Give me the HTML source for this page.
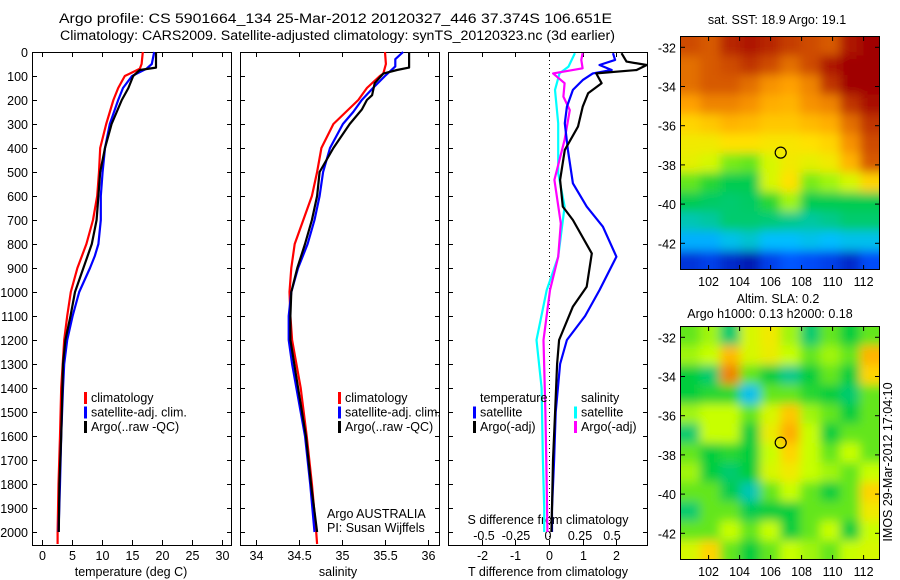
<!DOCTYPE html>
<html><head><meta charset="utf-8"><style>
html,body{margin:0;padding:0;background:#fff;}
svg{display:block;font-family:"Liberation Sans",sans-serif;}
text{font-size:12.5px;fill:#000;}
</style></head><body>
<svg id="chart" width="900" height="580" viewBox="0 0 900 580">
<defs><filter id="bl" filterUnits="userSpaceOnUse" x="660" y="0" width="240" height="580"><feGaussianBlur stdDeviation="5"/></filter>
<clipPath id="c1"><rect x="680" y="36" width="200" height="234"/></clipPath>
<clipPath id="c2"><rect x="680" y="326" width="200" height="234"/></clipPath>
<clipPath id="p3"><rect x="448" y="52" width="199" height="493"/></clipPath></defs>
<text x="59" y="23" textLength="553" lengthAdjust="spacingAndGlyphs" style="font-size:13.5px">Argo profile: CS 5901664_134 25-Mar-2012 20120327_446 37.374S 106.651E</text>
<text x="60" y="40" textLength="555" lengthAdjust="spacingAndGlyphs" style="font-size:13.5px">Climatology: CARS2009. Satellite-adjusted climatology: synTS_20120323.nc (3d earlier)</text>
<g id="g"></g>
</svg>
<script>
// ---- data ----
const depthT = [0,50,70,100,150,200,300,400,500,600,700,800,900,1000,1100,1200,1400,1600,1800,2000,2050];
const tempClim = [16.8,16.6,16.3,13.8,12.7,11.9,10.7,9.7,9.5,9.2,8.5,7.4,5.9,4.8,4.2,3.7,3.2,3.0,2.75,2.6,2.6];
const depthTS = [0,50,70,100,150,200,300,400,500,600,700,800,850,900,1000,1100,1200,1300,1400,1600,1800,2000];
const tempSat = [18.7,18.3,17.4,15.0,13.5,12.7,11.3,10.5,10.1,9.8,9.8,9.4,8.8,8.0,6.2,5.1,4.2,3.7,3.5,3.2,3.0,2.75];
const depthTA = [0,65,75,100,150,200,300,400,500,600,700,800,900,1000,1100,1200,1300,1400,1600,1800,2000];
const tempArgo = [19.0,19.0,16.3,15.2,14.4,13.3,11.6,10.5,9.7,9.4,9.1,8.3,6.9,5.5,4.75,3.9,3.5,3.4,3.2,2.9,2.8];
const depthS = [0,50,90,100,150,200,300,400,500,600,700,800,900,1000,1100,1200,1400,1600,1800,2000,2050];
const salClim = [35.5,35.51,35.48,35.44,35.29,35.19,34.9,34.76,34.71,34.65,34.55,34.45,34.41,34.39,34.40,34.42,34.52,34.59,34.65,34.70,34.71];
const depthSS = [0,30,60,100,150,200,250,300,400,500,600,700,800,900,1000,1100,1200,1300,1400,1600,1800,2000];
const salSat = [35.71,35.62,35.62,35.5,35.36,35.23,35.13,35.01,34.86,34.78,34.74,34.68,34.6,34.49,34.41,34.38,34.38,34.42,34.47,34.57,34.63,34.68];
const depthSA = [0,65,75,90,130,180,200,240,300,400,500,600,700,800,900,1000,1100,1200,1400,1600,1800,2000];
const salArgo = [35.78,35.78,35.64,35.48,35.38,35.35,35.29,35.23,35.09,34.9,34.74,34.71,34.65,34.57,34.48,34.41,34.40,34.40,34.49,34.58,34.64,34.71];
const depthDT = [5,33,54,75,89,117,158,228,297,408,547,644,728,853,992,1100,1200,1300,1500,1700,1900,2000];
const dTsat = [1.9,1.96,1.5,1.86,1.3,1.0,0.71,0.53,0.47,0.56,0.71,1.12,1.6,2.0,1.5,1.07,0.53,0.33,0.2,0.15,0.09,0.09];
const depthDA = [5,40,54,75,89,130,172,228,311,408,533,644,700,839,978,1061,1200,1300,1500,1700,1900,2000];
const dTargo = [2.15,2.3,2.9,2.6,1.4,1.56,1.16,1.0,0.86,0.47,0.33,0.41,0.71,1.27,1.12,0.71,0.3,0.24,0.18,0.12,0.09,0.07];
const depthDS = [5,61,89,158,297,505,644,853,992,1200,1400,1700,1900,2000];
const dSsat = [0.21,0.16,0.09,0.055,0.08,0.08,0.13,0.08,-0.01,-0.09,-0.05,-0.04,-0.03,-0.03];
const depthDSA = [5,33,68,89,130,186,242,366,533,714,853,992,1200,1500,1800,2000];
const dSargo = [0.27,0.26,0.27,0.04,0.13,0.12,0.17,0.13,0.05,0.1,0.08,0.016,-0.035,-0.02,-0.01,-0.005];
const depthTicks = [0,100,200,300,400,500,600,700,800,900,1000,1100,1200,1300,1400,1500,1600,1700,1800,1900,2000];
const tempTicks = [0,5,10,15,20,25,30];
const salTicks = [34,34.5,35,35.5,36];
const dTTicks = [-2,-1,0,1,2];
const dSTicks = [-0.5,-0.25,0,0.25,0.5];
const latTicks = [-32,-34,-36,-38,-40,-42];
const lonTicks = [102,104,106,108,110,112];
const sstGrid = [
[.9,.88,.95,.97,.95,.92,.9,.88,.97,1],[.85,.88,.9,.93,.9,.85,.9,.97,1,1],
[.85,.88,.88,.85,.8,.78,.82,.93,1,1],[.78,.82,.82,.8,.76,.75,.8,.82,.93,.98],
[.7,.72,.75,.74,.72,.72,.74,.76,.85,.93],[.66,.66,.68,.68,.67,.67,.68,.7,.8,.9],
[.64,.62,.56,.55,.62,.66,.64,.66,.75,.88],[.55,.52,.48,.48,.62,.68,.56,.58,.62,.7],
[.48,.46,.45,.46,.52,.58,.48,.48,.48,.48],[.38,.4,.45,.45,.44,.42,.4,.42,.45,.45],
[.28,.28,.32,.35,.3,.3,.32,.3,.32,.32],[.1,.12,.08,.05,.12,.16,.14,.12,.08,.14]];
const slaGrid = [
[.55,.58,.45,.62,.66,.58,.45,.55,.5,.55],[.58,.6,.74,.62,.65,.6,.55,.58,.55,.75],
[.5,.45,.82,.55,.5,.42,.5,.55,.5,.7],[.5,.52,.52,.32,.55,.55,.52,.5,.45,.55],
[.58,.6,.6,.55,.62,.72,.58,.55,.5,.55],[.45,.6,.6,.5,.65,.76,.6,.5,.55,.55],
[.55,.5,.52,.5,.6,.7,.6,.55,.6,.55],[.58,.5,.45,.5,.62,.66,.6,.58,.55,.6],
[.55,.55,.48,.38,.55,.6,.55,.5,.55,.7],[.45,.55,.55,.48,.5,.5,.55,.55,.55,.66],
[.55,.55,.6,.55,.6,.5,.55,.6,.5,.6],[.62,.7,.55,.5,.55,.6,.58,.55,.6,.62]];
const argoLat = -37.374, argoLon = 106.651;

// ---- scales ----
const Y0=52, Y1=545;
const yD = d => 52 + d*0.24;
const xT = t => 42 + t*6;
const xS = s => 256 + (s-34)*86;
const xDT = v => 549 + v*33.7;
const xDS = v => 548 + v*128;
const yLat = (lat, top) => top + 11.3 + (-32 - lat)*19.6;
const xLon = lon => 708.6 + (lon-102)*15.5;

const NS='http://www.w3.org/2000/svg';
const G=document.getElementById('g');
function mk(tag, attrs, parent){const e=document.createElementNS(NS,tag);for(const k in attrs)e.setAttribute(k,attrs[k]);(parent||G).appendChild(e);return e;}
function txt(x,y,s,anchor,name,extra){const e=mk('text',Object.assign({x:x,y:y,'text-anchor':anchor||'start'},extra||{}));e.textContent=s;


return e;}

const panels=[{x:32,name:'temperature-panel'},{x:240,name:'salinity-panel'},{x:448,name:'difference-panel'}];
panels.forEach(p=>{
  const r=mk('rect',{x:p.x+0.5,y:Y0+0.5,width:199,height:Y1-Y0,fill:'none',stroke:'#000','stroke-width':1});
  
  
  depthTicks.forEach(d=>{const y=yD(d)+0.5;
    mk('line',{x1:p.x,x2:p.x+5,y1:y,y2:y,stroke:'#000'});
    mk('line',{x1:p.x+195,x2:p.x+200,y1:y,y2:y,stroke:'#000'});});
});
depthTicks.forEach(d=>{txt(28,yD(d)+5,String(d),'end','depth-tick-label');});
function xticks(vals,f,ly){vals.forEach(v=>{const x=Math.round(f(v))+0.5;
  mk('line',{x1:x,x2:x,y1:Y0,y2:Y0+5,stroke:'#000'});mk('line',{x1:x,x2:x,y1:Y1-5,y2:Y1,stroke:'#000'});
  if(ly)txt(x,ly,String(v),'middle','x-tick-label');});}
xticks(tempTicks,xT,560);
xticks(salTicks,xS,560);
xticks(dTTicks,xDT,560);
dSTicks.forEach(v=>{txt(xDS(v),540,String(v),'middle','s-diff-tick-label');});
txt(131,576,'temperature (deg C)','middle','x-axis-title-temperature');
txt(338,576,'salinity','middle','x-axis-title-salinity');
txt(548,576,'T difference from climatology','middle','x-axis-title-t-diff');
txt(548,524,'S difference from climatology','middle','s-diff-axis-title');
mk('line',{x1:549.5,x2:549.5,y1:Y0,y2:Y1,stroke:'#000','stroke-dasharray':'1,3'});

function series(ds,vs,fx,color,name,clip){
  const pts=ds.map((d,i)=>fx(vs[i]).toFixed(1)+','+yD(d).toFixed(1)).join(' ');
  const a={points:pts,fill:'none',stroke:color,'stroke-width':2.2,'stroke-linejoin':'round'};
  if(clip)a['clip-path']='url(#p3)';
  const e=mk('polyline',a);
  
  
}
series(depthT,tempClim,xT,'#f00','temp-climatology-line');
series(depthTS,tempSat,xT,'#00f','temp-satellite-line');
series(depthTA,tempArgo,xT,'#000','temp-argo-line');
series(depthS,salClim,xS,'#f00','sal-climatology-line');
series(depthSS,salSat,xS,'#00f','sal-satellite-line');
series(depthSA,salArgo,xS,'#000','sal-argo-line');
series(depthDS,dSsat,xDS,'#0ff','s-diff-satellite-line',1);
series(depthDSA,dSargo,xDS,'#f0f','s-diff-argo-line',1);
series(depthDT,dTsat,xDT,'#00f','t-diff-satellite-line',1);
series(depthDA,dTargo,xDT,'#000','t-diff-argo-line',1);

function legend(x,y,items,name){items.forEach((it,i)=>{const yy=y+i*14.5;
  if(it[1]){const b=mk('rect',{x:x,y:yy-10,width:3,height:12,fill:it[1]});
  
  }
  txt(x+7,yy,it[0],'start',name+'-entry');});}
legend(84,402,[['climatology','#f00'],['satellite-adj. clim.','#00f'],['Argo(..raw -QC)','#000']],'temp-legend');
legend(338,402,[['climatology','#f00'],['satellite-adj. clim.','#00f'],['Argo(..raw -QC)','#000']],'sal-legend');
legend(473,402,[['temperature',null],['satellite','#00f'],['Argo(-adj)','#000']],'t-diff-legend');
legend(574,402,[['salinity',null],['satellite','#0ff'],['Argo(-adj)','#f0f']],'s-diff-legend');
txt(327,518,'Argo AUSTRALIA','start','argo-agency-note');
txt(327,532,'PI: Susan Wijffels','start','pi-note');

// ---- maps ----
const stops=[[0,[0,0,143]],[0.15,[0,80,255]],[0.3,[0,190,255]],[0.4,[0,200,160]],[0.5,[0,205,60]],[0.6,[200,255,0]],[0.68,[255,225,0]],[0.78,[255,160,0]],[0.88,[215,90,0]],[1,[160,0,0]]];
function cmap(v){for(let i=1;i<stops.length;i++){if(v<=stops[i][0]){const a=stops[i-1],b=stops[i],t=(v-a[0])/(b[0]-a[0]);
  return 'rgb('+a[1].map((c,j)=>Math.round(c+(b[1][j]-c)*t)).join(',')+')';}}return 'rgb(160,0,0)';}
function map(top,grid,clip,name){
  const g=mk('g',{'clip-path':'url(#'+clip+')'});
  const gi=mk('g',{filter:'url(#bl)'},g);
  const cw=200/grid[0].length,ch=234/grid.length;
  grid.forEach((row,r)=>row.forEach((v,c)=>{
    const x=680+c*cw-(c===0?12:0), y=top+r*ch-(r===0?12:0);
    const w=cw+0.5+(c===0?12:0)+(c===row.length-1?12:0), h=ch+0.5+(r===0?12:0)+(r===grid.length-1?12:0);
    const e=mk('rect',{x:x,y:y,width:w,height:h,fill:cmap(v)},gi);
    
    }));
  const f=mk('rect',{x:680.5,y:top+0.5,width:199,height:233,fill:'none',stroke:'#000'});
  
  
  latTicks.forEach(l=>{const y=yLat(l,top);mk('line',{x1:680,x2:685,y1:y,y2:y,stroke:'#000'});mk('line',{x1:875,x2:880,y1:y,y2:y,stroke:'#000'});
    txt(676,y+5,String(l),'end',name+'-lat-label');});
  lonTicks.forEach(l=>{const x=xLon(l);mk('line',{x1:x,x2:x,y1:top,y2:top+5,stroke:'#000'});mk('line',{x1:x,x2:x,y1:top+229,y2:top+234,stroke:'#000'});
    txt(x,top+250,String(l),'middle',name+'-lon-label');});
  const c=mk('circle',{cx:xLon(argoLon),cy:yLat(argoLat,top),r:5.5,fill:'none',stroke:'#000','stroke-width':1.2});
  
  
}
map(36,sstGrid,'c1','sst-map');
map(326,slaGrid,'c2','sla-map');
txt(777,24,'sat. SST: 18.9 Argo: 19.1','middle','sst-map-title');
txt(778,303,'Altim. SLA: 0.2','middle','sla-map-title');
txt(770,318,'Argo h1000: 0.13 h2000: 0.18','middle','sla-map-subtitle');
txt(0,0,'IMOS 29-Mar-2012 17:04:10','middle','timestamp-label',{transform:'translate(892,462) rotate(-90)'});
</script>
</body></html>
